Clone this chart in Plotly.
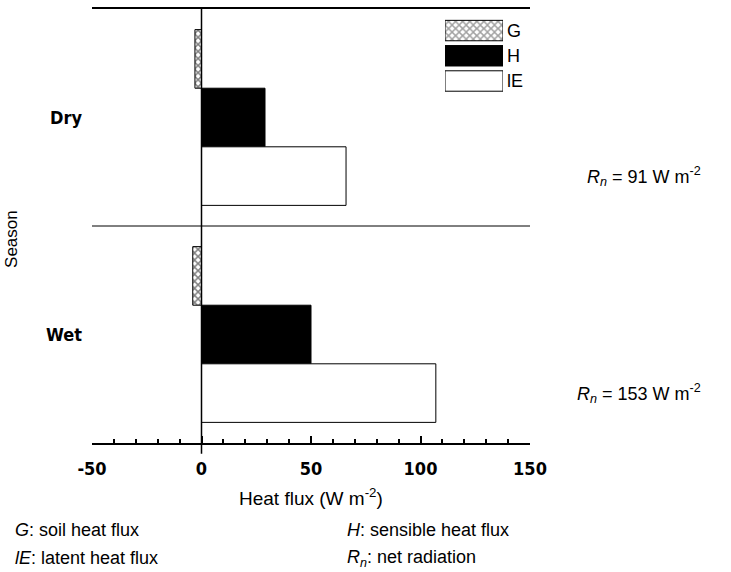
import plotly.graph_objects as go

# ---- data ----
seasons = ["Dry", "Wet"]
G_vals = [-3, -4]
H_vals = [29, 50]
lE_vals = [66, 107]
rn_vals = [91, 153]
x_ticks = [-50, 0, 50, 100, 150]
x_tick_labels = ["-50", "0", "50", "100", "150"]
legend_keys = ["G", "H", "lE"]

W, Hh = 731, 572
L, R, T, B = 92, 201, 7, 129
pw = W - L - R
ph = Hh - T - B

def px(x):
    return (x - L) / pw

def py(y):
    return (Hh - B - y) / ph

narrow = "Liberation Sans Narrow, Arial Narrow, DejaVu Sans Condensed, Liberation Sans, Arial"
sans = "Liberation Sans, Arial, sans-serif"

fig = go.Figure()
line = dict(color="black", width=1)
hatch = dict(shape="x", fgcolor="black", bgcolor="white", size=5, solidity=0.5)
fig.add_trace(go.Bar(y=seasons, x=G_vals, orientation="h", name="G",
                     marker=dict(color="white", line=line, pattern=hatch)))
fig.add_trace(go.Bar(y=seasons, x=H_vals, orientation="h", name="H",
                     marker=dict(color="black", line=line)))
fig.add_trace(go.Bar(y=seasons, x=lE_vals, orientation="h", name="lE",
                     marker=dict(color="white", line=line)))

# legend keys drawn as a small inset bar chart
fig.add_trace(go.Bar(y=legend_keys, x=[1, 1, 1], orientation="h", xaxis="x2", yaxis="y2",
                     marker=dict(color=["white", "black", "white"], line=line,
                                 pattern=dict(shape=["x", "", ""], fgcolor="black",
                                              bgcolor="white", size=5, solidity=0.5))))

fig.update_layout(
    width=W, height=Hh,
    margin=dict(l=L, r=R, t=T, b=B),
    paper_bgcolor="white", plot_bgcolor="white",
    barmode="group", bargap=0.19, bargroupgap=0,
    showlegend=False,
    xaxis=dict(range=[-50, 150], tickvals=x_ticks, ticktext=x_tick_labels,
               showgrid=False, zeroline=False,
               showline=True, linecolor="black", linewidth=1.5, mirror=True,
               ticks="inside", ticklen=7, tickwidth=1.5, tickcolor="black",
               ticklabelstandoff=9,
               minor=dict(dtick=10, ticks="inside", ticklen=4, tickcolor="black"),
               tickfont=dict(family=narrow, size=18, color="black", weight="bold")),
    yaxis=dict(categoryorder="array", categoryarray=seasons, range=[1.5, -0.5],
               showgrid=False, zeroline=False, showline=False, ticks="",
               ticklabelstandoff=9,
               tickfont=dict(family=narrow, size=18, color="black", weight="bold")),
    xaxis2=dict(domain=[px(445), px(503)], anchor="y2", range=[0, 1], visible=False),
    yaxis2=dict(domain=[py(92), py(16)], anchor="x2", side="right",
                categoryorder="array", categoryarray=legend_keys, range=[2.5, -0.5],
                showgrid=False, zeroline=False, showline=False, ticks="",
                ticklabelstandoff=3,
                tickfont=dict(family=sans, size=18, color="black")),
)

# zero line and season separator
fig.add_shape(type="line", xref="x", yref="y domain", x0=0, x1=0, y0=-0.025, y1=1,
              line=dict(color="black", width=1.5))
fig.add_shape(type="line", xref="x domain", yref="y", x0=0, x1=1, y0=0.5, y1=0.5,
              line=dict(color="black", width=1))

def ann(text, x, y, xanchor="left", size=18, angle=0, family=sans):
    fig.add_annotation(text=text, xref="paper", yref="paper", x=px(x), y=py(y),
                       xanchor=xanchor, yanchor="middle", showarrow=False,
                       textangle=angle, font=dict(family=family, size=size, color="black"))

ann("Season", 12, 238, xanchor="center", size=17, angle=-90)
ann("Heat flux (W m<sup>-2</sup>)", 311, 497, xanchor="center", size=19)
ann("<i>R<sub>n</sub></i> = %d W m<sup>-2</sup>" % rn_vals[0], 703, 175, xanchor="right")
ann("<i>R<sub>n</sub></i> = %d W m<sup>-2</sup>" % rn_vals[1], 703, 393, xanchor="right")
ann("<i>G</i>: soil heat flux", 13, 530)
ann("<i>lE</i>: latent heat flux", 13, 559)
ann("<i>H</i>: sensible heat flux", 345, 530)
ann("<i>R<sub>n</sub></i>: net radiation", 345, 559)

fig.write_html("out.html", config={"displayModeBar": False},
               post_script="document.body.style.margin='0';")
